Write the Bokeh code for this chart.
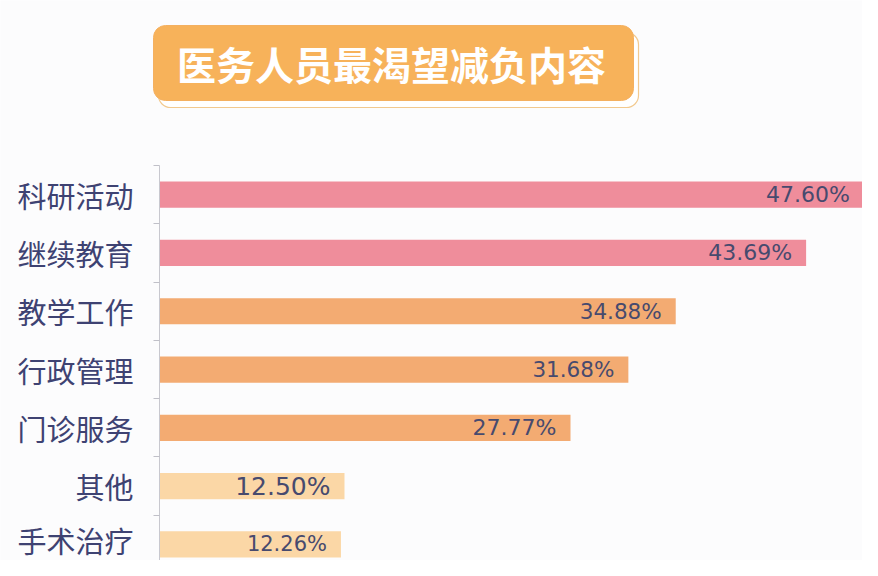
from bokeh.plotting import figure
from bokeh.models import ColumnDataSource, Range1d, FixedTicker
from bokeh.core.properties import value
from bokeh.embed import file_html
from bokeh.resources import INLINE

# ---- data ----
title_text = "医务人员最渴望减负内容"
categories = ["科研活动", "继续教育", "教学工作", "行政管理", "门诊服务", "其他", "手术治疗"]
values = [47.60, 43.69, 34.88, 31.68, 27.77, 12.50, 12.26]

# ---- styles ----
bar_colors = ["#EF8D9B", "#EF8D9B", "#F3AB72", "#F3AB72", "#F3AB72", "#FBD7A6", "#FBD7A6"]
label_sizes = ["22px", "22px", "21.5px", "21.5px", "22px", "25px", "21px"]
BG = "#fcfcfd"
TEXT = "#3e4272"

# ---- geometry (picture pixels) ----
W, H = 862, 560       # figure size
X0, SX = 159, 14.8    # x pixel of value 0, pixels per percent
Y0, SY = 573, 29.14   # y pixel of bottom category boundary, pixels per half-category

def to_x(px):
    return (px - X0) / SX

def to_y(py):
    return (Y0 - py) / SY

n = len(categories)
ys = [2 * (n - 1 - i) + 1 for i in range(n)]
src = ColumnDataSource(dict(
    y=ys, v=values, color=bar_colors, fs=label_sizes,
    label=[f"{v:.2f}%" for v in values],
))

p = figure(width=W, height=H,
           x_range=Range1d(to_x(0), to_x(W)),
           y_range=Range1d(to_y(H), to_y(0)),
           output_backend="svg", toolbar_location=None, x_axis_location=None,
           min_border=0,
           background_fill_color=BG, border_fill_color=BG)
p.outline_line_color = None
p.grid.visible = False

# ---- title box ----
p.quad(left=[to_x(158)], right=[to_x(638)], top=[to_y(32)], bottom=[to_y(107)],
       fill_color="#ffffff", line_color="#F2C98E", line_width=1.2, border_radius=12)
p.quad(left=[to_x(153)], right=[to_x(633)], top=[to_y(25)], bottom=[to_y(100)],
       fill_color="#F7B25A", line_color="#F4B060", line_width=1, border_radius=12)
p.text(x=[to_x(391)], y=[to_y(62)], text=[title_text], text_align="center", text_baseline="middle",
       text_font=value("Noto Sans CJK SC"), text_font_style="bold",
       text_font_size="39px", text_color="#ffffff")

# ---- bars ----
p.hbar(y="y", left=0, right="v", height=0.9, fill_color="color", line_color=None, source=src)
p.text(x="v", y="y", text="label", x_offset=-14, text_align="right", text_baseline="middle",
       text_font=value("DejaVu Sans"), text_font_size="fs", text_color="#474a6e", source=src)

# ---- category axis ----
ax = p.yaxis[0]
ax.fixed_location = 0
ax.bounds = (0, 2 * n)
ax.ticker = FixedTicker(ticks=ys, minor_ticks=list(range(0, 2 * n + 1, 2)))
ax.major_label_overrides = {y: c for y, c in zip(ys, categories)}
ax.major_tick_out = 0
ax.major_tick_in = 0
ax.minor_tick_out = 6
ax.minor_tick_in = 0
ax.minor_tick_line_color = "#c0c0c8"
ax.axis_line_color = "#c8c8cf"
ax.major_label_text_font = "Noto Sans CJK SC"
ax.major_label_text_font_size = "29px"
ax.major_label_text_color = TEXT
ax.major_label_standoff = 20

open("out.html", "w").write(file_html(p, INLINE))
